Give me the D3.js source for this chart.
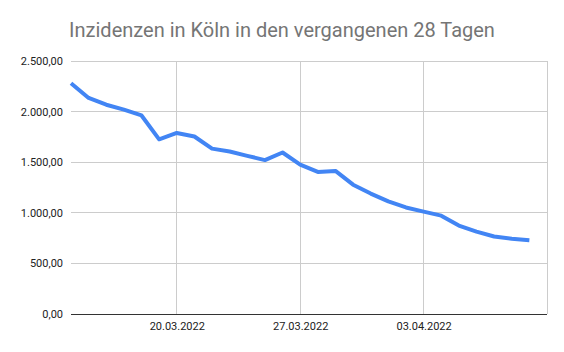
<!DOCTYPE html>
<html>
<head>
<meta charset="utf-8">
<script src="https://cdn.jsdelivr.net/npm/d3@7"></script>
<style>
  body { margin: 0; background: #fff; }
  svg { display: block; font-family: Roboto, Arial, sans-serif; }
</style>
</head>
<body>
<div id="chart"></div>
<script>
// Daten: Inzidenz pro Tag (14.03.2022 bis 09.04.2022)
var titel = "Inzidenzen in Köln in den vergangenen 28 Tagen";
var startTag = "2022-03-14";
var inzidenz = [2280, 2135, 2068, 2020, 1962, 1726, 1789, 1754, 1634, 1606,
                1563, 1521, 1596, 1476, 1404, 1414, 1278, 1190, 1113, 1053,
                1012, 972, 874, 814, 766, 743, 728];
var yTicks = [0, 500, 1000, 1500, 2000, 2500];
var xGrid = ["2022-03-20", "2022-03-27", "2022-04-03", "2022-04-10"];
var xLabels = ["2022-03-20", "2022-03-27", "2022-04-03"];

var parse = d3.timeParse("%Y-%m-%d");
var t0 = parse(startTag);
var dados = inzidenz.map((v, i) => ({ tag: d3.timeDay.offset(t0, i), value: v }));

var W = 564, H = 352;
var margin = { left: 71, right: 17, top: 61, bottom: 38 };

var svg = d3.select("#chart").append("svg")
    .attr("width", W)
    .attr("height", H);

var x = d3.scaleTime()
    .domain([t0, parse("2022-04-10")])
    .range([margin.left, W - margin.right]);

var y = d3.scaleLinear()
    .domain([0, 2500])
    .range([H - margin.bottom, margin.top]);

var fmt = d3.formatLocale({ decimal: ",", thousands: ".", grouping: [3], currency: ["", " €"] }).format(",.2f");
var fmtTag = d3.timeFormat("%d.%m.%Y");

// Titel
svg.append("text")
    .attr("x", W / 2)
    .attr("y", 37)
    .attr("text-anchor", "middle")
    .attr("font-size", 20)
    .attr("fill", "#757575")
    .text(titel);

// horizontale Gitterlinien
svg.append("g")
    .selectAll("line")
    .data(yTicks.filter(d => d > 0))
    .enter().append("line")
      .attr("x1", margin.left)
      .attr("x2", W - margin.right)
      .attr("y1", d => y(d))
      .attr("y2", d => y(d))
      .attr("stroke", "#cccccc")
      .attr("stroke-width", 1)
      .attr("shape-rendering", "crispEdges");

// vertikale Gitterlinien
svg.append("g")
    .selectAll("line")
    .data(xGrid.map(parse))
    .enter().append("line")
      .attr("x1", d => x(d))
      .attr("x2", d => x(d))
      .attr("y1", margin.top)
      .attr("y2", H - margin.bottom)
      .attr("stroke", "#cccccc")
      .attr("stroke-width", 1)
      .attr("shape-rendering", "crispEdges");

// Y-Achse
var yAxis = svg.append("g")
    .attr("transform", "translate(" + margin.left + ",0)")
    .call(d3.axisLeft(y).tickValues(yTicks).tickFormat(fmt).tickSize(0).tickPadding(8));
yAxis.select(".domain").remove();
yAxis.selectAll("text")
    .attr("font-size", 11)
    .attr("fill", "#222222")
    .attr("font-family", "Roboto, Arial, sans-serif");

// X-Achse
var xAxis = svg.append("g")
    .attr("transform", "translate(0," + (H - margin.bottom) + ")")
    .call(d3.axisBottom(x).tickValues(xLabels.map(parse)).tickFormat(fmtTag).tickSize(0).tickPadding(8));
xAxis.select(".domain").remove();
xAxis.selectAll("text")
    .attr("font-size", 11)
    .attr("fill", "#222222")
    .attr("font-family", "Roboto, Arial, sans-serif");

// Grundlinie
svg.append("line")
    .attr("x1", margin.left)
    .attr("x2", W - margin.right)
    .attr("y1", y(0))
    .attr("y2", y(0))
    .attr("stroke", "#333333")
    .attr("stroke-width", 1)
    .attr("shape-rendering", "crispEdges");

// Linie
var linha = d3.line()
    .x(d => x(d.tag))
    .y(d => y(d.value));

svg.append("path")
    .datum(dados)
    .attr("d", linha)
    .attr("fill", "none")
    .attr("stroke", "#4285f4")
    .attr("stroke-width", 4)
    .attr("stroke-linejoin", "round");
</script>
</body>
</html>
